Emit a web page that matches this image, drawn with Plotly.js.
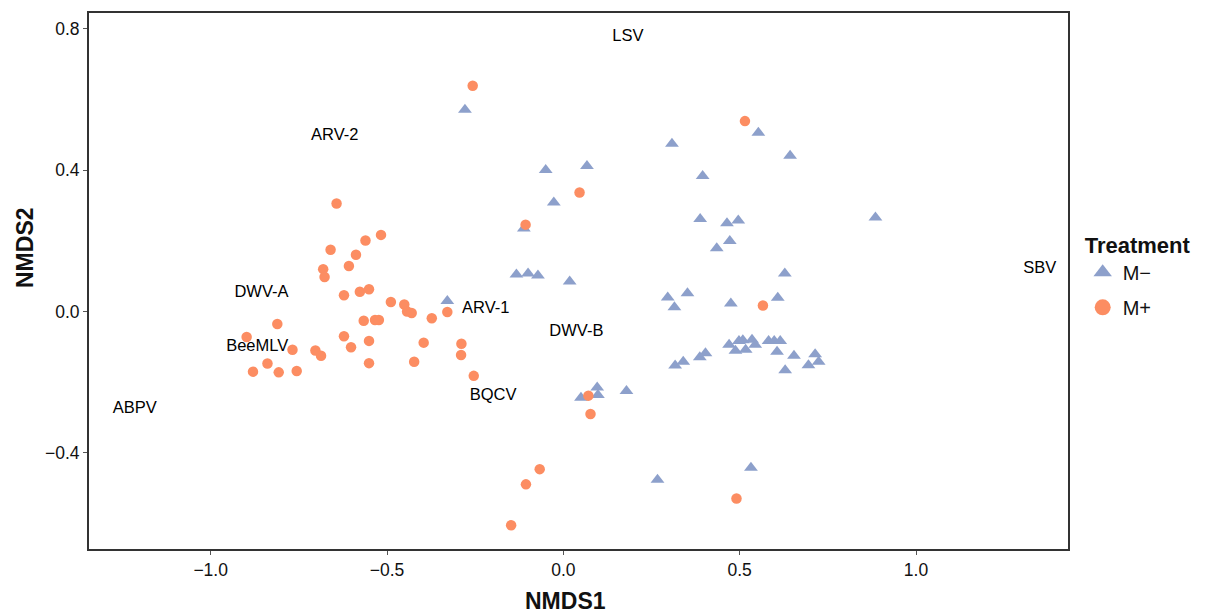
<!DOCTYPE html>
<html>
<head>
<meta charset="utf-8">
<script src="https://cdn.plot.ly/plotly-3.0.1.min.js"></script>
<style>html,body{margin:0;padding:0;background:#fff;}#chart{width:1215px;height:616px;}</style>
</head>
<body>
<div id="chart"></div>
<script>
// M+ samples (circles)
const mPlusX = [-0.257,-0.643,-0.517,-0.561,-0.660,-0.588,-0.608,-0.681,-0.677,-0.622,-0.577,-0.551,-0.489,-0.451,-0.443,-0.430,-0.373,-0.329,-0.566,-0.534,-0.523,-0.811,-0.898,-0.622,-0.551,-0.768,-0.602,-0.396,-0.289,-0.703,-0.687,-0.290,-0.839,-0.551,-0.423,-0.880,-0.807,-0.756,-0.254,0.515,0.046,-0.107,0.566,0.071,0.077,-0.067,-0.106,-0.148,0.491];
const mPlusY = [0.639,0.306,0.217,0.201,0.175,0.161,0.129,0.120,0.098,0.046,0.056,0.063,0.027,0.020,0.000,-0.004,-0.019,-0.001,-0.026,-0.024,-0.024,-0.035,-0.072,-0.070,-0.083,-0.108,-0.101,-0.088,-0.091,-0.110,-0.125,-0.123,-0.147,-0.146,-0.142,-0.170,-0.172,-0.168,-0.182,0.539,0.337,0.246,0.017,-0.238,-0.290,-0.446,-0.489,-0.605,-0.529];
// M− samples (triangles)
const mMinusX = [-0.279,-0.329,0.553,0.308,-0.050,0.067,0.395,0.643,-0.027,-0.112,0.885,0.388,0.464,0.496,0.472,0.435,-0.133,-0.100,-0.072,0.018,0.628,0.296,0.352,0.315,0.475,0.608,0.470,0.498,0.509,0.488,0.517,0.535,0.544,0.582,0.598,0.615,0.606,0.654,0.629,0.714,0.695,0.724,0.317,0.340,0.387,0.403,0.096,0.098,0.050,0.179,0.267,0.532];
const mMinusY = [0.571,0.030,0.506,0.475,0.401,0.412,0.384,0.441,0.309,0.235,0.266,0.262,0.250,0.258,0.200,0.179,0.105,0.108,0.102,0.085,0.108,0.040,0.052,0.012,0.023,0.039,-0.094,-0.083,-0.081,-0.111,-0.108,-0.080,-0.094,-0.083,-0.083,-0.083,-0.114,-0.125,-0.166,-0.121,-0.152,-0.142,-0.153,-0.142,-0.129,-0.118,-0.215,-0.236,-0.244,-0.225,-0.476,-0.442];
// Virus (species) scores
const virusNames = ["LSV","ARV-2","DWV-A","ARV-1","DWV-B","BeeMLV","BQCV","ABPV","SBV"];
const virusX = [0.183,-0.648,-0.856,-0.220,0.037,-0.868,-0.199,-1.215,1.351];
const virusY = [0.778,0.497,0.054,0.008,-0.058,-0.101,-0.239,-0.276,0.121];
const treatments = ["M\u2212","M+"];
const xTicks = [-1.0,-0.5,0.0,0.5,1.0];
const xTickText = ["\u22121.0","\u22120.5","0.0","0.5","1.0"];
const yTicks = [-0.4,0.0,0.4,0.8];
const yTickText = ["\u22120.4","0.0","0.4","0.8"];

const font = "Liberation Sans, Arial, Helvetica, sans-serif";
const colMinus = "#8DA0CB", colPlus = "#FC8D62";
const traces = [
  {x: mMinusX, y: mMinusY, name: treatments[0], legendgroup: "a", showlegend: false, type: "scatter", mode: "markers",
   marker: {symbol: "triangle-up", size: 12, color: colMinus, line: {width: 0}}},
  {x: mPlusX, y: mPlusY, name: treatments[1], legendgroup: "b", showlegend: false, type: "scatter", mode: "markers",
   marker: {symbol: "circle", size: 10.5, color: colPlus, line: {width: 0}}},
  // legend entries (larger keys, as in the reference legend)
  {x: [null], y: [null], name: treatments[0], legendgroup: "a", type: "scatter", mode: "markers",
   marker: {symbol: "triangle-up", size: 16, color: colMinus, line: {width: 0}}},
  {x: [null], y: [null], name: treatments[1], legendgroup: "b", type: "scatter", mode: "markers",
   marker: {symbol: "circle", size: 16, color: colPlus, line: {width: 0}}},
  {x: virusX, y: virusY, text: virusNames, type: "scatter", mode: "text", showlegend: false,
   textfont: {family: font, size: 16.5, color: "#000"}, textposition: "middle center", hoverinfo: "text"}
];
const axisCommon = {showgrid: false, zeroline: false, showline: true, mirror: true, linecolor: "#333", linewidth: 2,
  ticks: "outside", ticklen: 4, tickwidth: 1, tickcolor: "#555", tickfont: {family: font, size: 17.5, color: "#111"}};
const layout = {
  width: 1215, height: 616,
  margin: {l: 89, r: 147, t: 13, b: 67},
  paper_bgcolor: "#fff", plot_bgcolor: "#fff",
  showlegend: true,
  xaxis: Object.assign({}, axisCommon, {range: [-1.345, 1.431], tickvals: xTicks, ticktext: xTickText}),
  yaxis: Object.assign({}, axisCommon, {range: [-0.672, 0.845], tickvals: yTicks, ticktext: yTickText}),
  legend: {x: 1.015, xanchor: "left", y: 0.606, yanchor: "top", font: {family: font, size: 20, color: "#111"},
    title: {text: "<b>Treatment</b>", font: {family: font, size: 22, color: "#111"}}, tracegroupgap: 6, itemsizing: "trace"},
  annotations: [
    {text: "<b>NMDS1</b>", xref: "paper", yref: "paper", x: (565-89)/979, y: 0, yshift: -52, xanchor: "center", yanchor: "middle",
     showarrow: false, font: {family: font, size: 23, color: "#111"}},
    {text: "<b>NMDS2</b>", xref: "paper", yref: "paper", x: 0, xshift: -64, y: (549-248)/536, xanchor: "center", yanchor: "middle",
     textangle: -90, showarrow: false, font: {family: font, size: 23, color: "#111"}}
  ]
};
Plotly.newPlot("chart", traces, layout, {displayModeBar: false, staticPlot: true});
</script>
</body>
</html>
